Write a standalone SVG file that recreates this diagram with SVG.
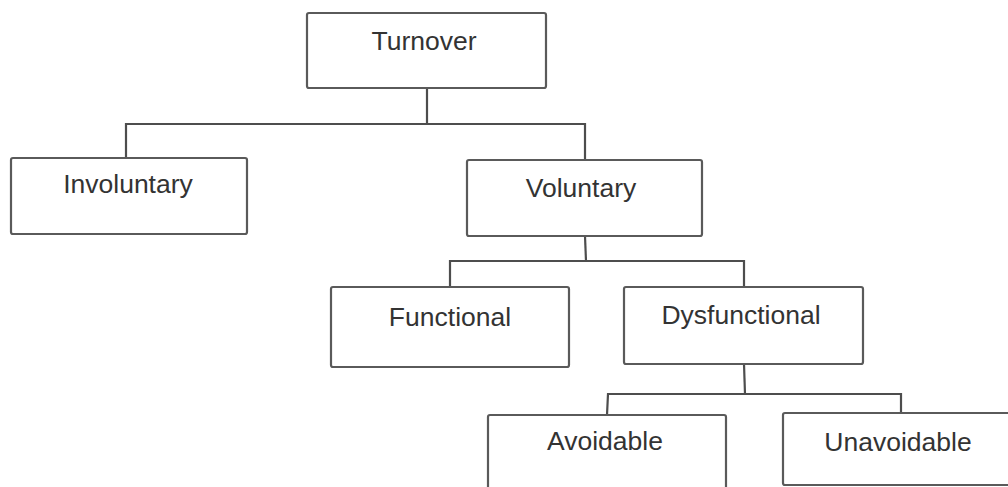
<svg xmlns="http://www.w3.org/2000/svg" width="1008" height="487" viewBox="0 0 1008 487">
<style>
.box{fill:#ffffff;stroke:#5a5a5a;stroke-width:2.2}
.lbl{font-family:"Liberation Sans",Arial,sans-serif;font-size:26.5px;fill:#333333;text-anchor:middle}
.con{fill:none;stroke:#4d4d4d;stroke-width:2.2}
</style>
<rect width="1008" height="487" fill="#ffffff"/>
<g id="connectors">
<path class="con" d="M427 88 V124"/>
<path class="con" d="M126 158 V124 H585 V160"/>
<path class="con" d="M585 236 L586 261"/>
<path class="con" d="M450 287 V261 H744 V287"/>
<path class="con" d="M744 364 L745 394"/>
<path class="con" d="M607 415 L608 394 H901 V413"/>
</g>
<g id="turnover">
<rect class="box" x="307" y="13" width="239" height="75" rx="2"/>
<text class="lbl" x="424" y="50">Turnover</text>
</g>
<g id="involuntary">
<rect class="box" x="11" y="158" width="236" height="76" rx="2"/>
<text class="lbl" x="128" y="193">Involuntary</text>
</g>
<g id="voluntary">
<rect class="box" x="467" y="160" width="235" height="76" rx="2"/>
<text class="lbl" x="581" y="197">Voluntary</text>
</g>
<g id="functional">
<rect class="box" x="331" y="287" width="238" height="80" rx="2"/>
<text class="lbl" x="450" y="326">Functional</text>
</g>
<g id="dysfunctional">
<rect class="box" x="624" y="287" width="239" height="77" rx="2"/>
<text class="lbl" x="741" y="324">Dysfunctional</text>
</g>
<g id="avoidable">
<rect class="box" x="488" y="415" width="238" height="80" rx="2"/>
<text class="lbl" x="605" y="450">Avoidable</text>
</g>
<g id="unavoidable">
<rect class="box" x="783" y="413" width="240" height="72" rx="2"/>
<text class="lbl" x="898" y="451">Unavoidable</text>
</g>
</svg>
